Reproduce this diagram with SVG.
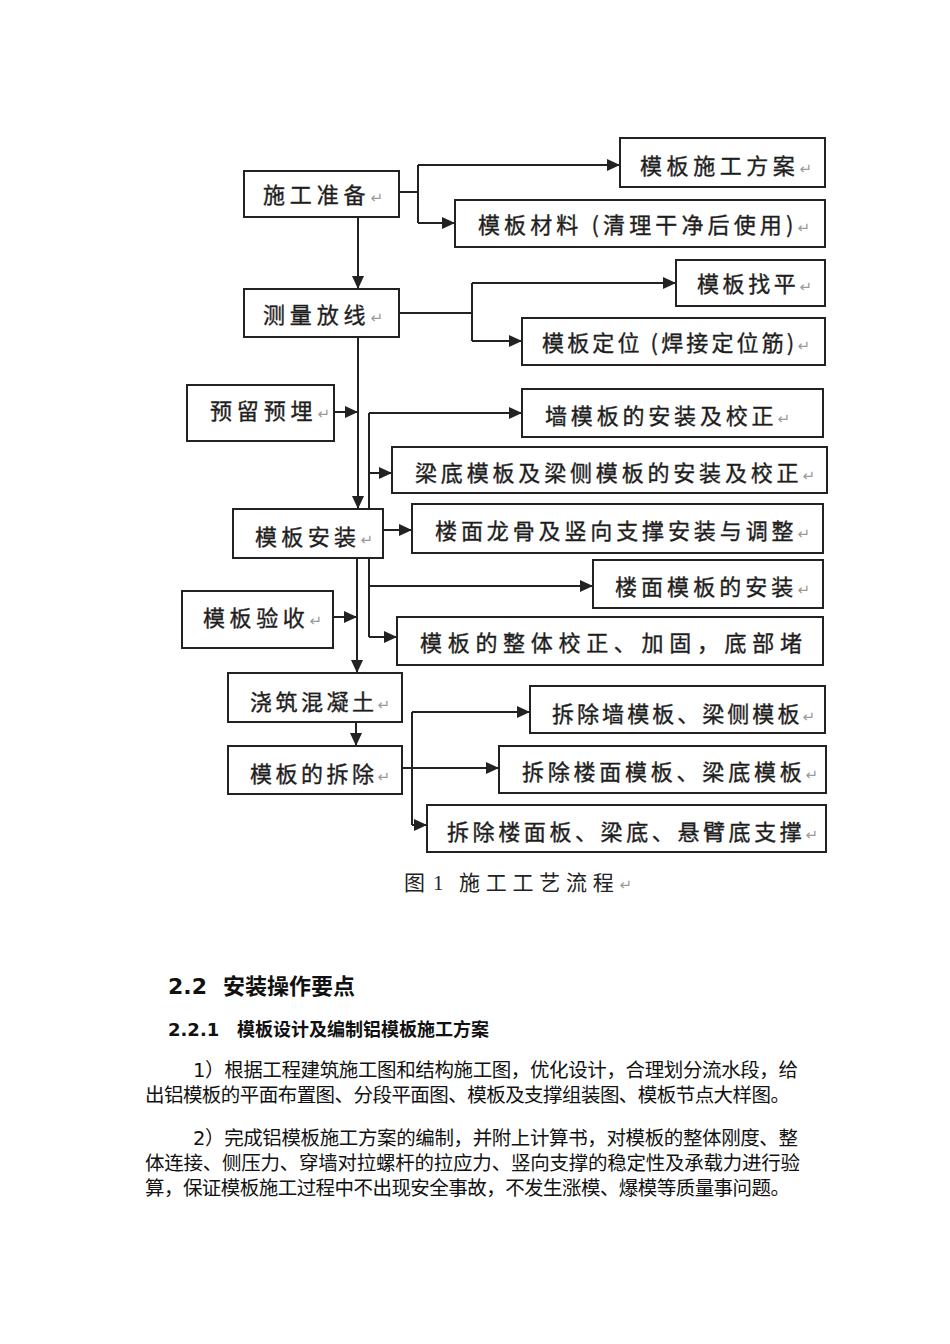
<svg xmlns="http://www.w3.org/2000/svg" width="950" height="1344" viewBox="0 0 950 1344">
<style>
.bg{fill:#ffffff}
.box{fill:#ffffff;stroke:#222222;stroke-width:2}
.ln{fill:none;stroke:#222222;stroke-width:2}
.t{font-family:"Noto Sans CJK SC","DejaVu Sans",sans-serif;font-size:22px;fill:#1e1e1e;stroke:#1e1e1e;stroke-width:0.35}
.ret{font-family:"DejaVu Sans","Noto Sans CJK SC",sans-serif;font-size:15px;fill:#9a9a9a;stroke:none}
.cap{font-family:"Noto Sans CJK SC","Liberation Serif",serif;font-size:21px;fill:#222222}
.h1{font-family:"DejaVu Sans","Noto Sans CJK SC",sans-serif;font-size:22px;font-weight:bold;fill:#111111}
.h2{font-family:"DejaVu Sans","Noto Sans CJK SC",sans-serif;font-size:18px;font-weight:bold;fill:#111111}
.p{font-family:"DejaVu Sans","Noto Sans CJK SC",sans-serif;font-size:19.5px;fill:#111111}
</style>
<defs>
<marker id="ar" markerWidth="14" markerHeight="12" refX="13" refY="6" orient="auto" markerUnits="userSpaceOnUse">
<path d="M0,0 L13,6 L0,12 z" fill="#222222"/>
</marker>
</defs>
<rect class="bg" x="0" y="0" width="950" height="1344"/>

<g id="connectors">
<path class="ln" d="M399,192 H418 M418,165 V223"/>
<path class="ln" d="M418,165 H620" marker-end="url(#ar)"/>
<path class="ln" d="M418,223 H455" marker-end="url(#ar)"/>
<path class="ln" d="M358,217 V289" marker-end="url(#ar)"/>
<path class="ln" d="M399,313 H472 M472,283 V341"/>
<path class="ln" d="M472,283 H676" marker-end="url(#ar)"/>
<path class="ln" d="M472,341 H522" marker-end="url(#ar)"/>
<path class="ln" d="M358,337 V509" marker-end="url(#ar)"/>
<path class="ln" d="M334,412 H358" marker-end="url(#ar)"/>
<path class="ln" d="M369,413 V637"/>
<path class="ln" d="M369,413 H522" marker-end="url(#ar)"/>
<path class="ln" d="M369,473 H392" marker-end="url(#ar)"/>
<path class="ln" d="M383,530 H412" marker-end="url(#ar)"/>
<path class="ln" d="M369,586 H593" marker-end="url(#ar)"/>
<path class="ln" d="M369,637 H397" marker-end="url(#ar)"/>
<path class="ln" d="M357,558 V673" marker-end="url(#ar)"/>
<path class="ln" d="M333,617 H357" marker-end="url(#ar)"/>
<path class="ln" d="M356,722 V746" marker-end="url(#ar)"/>
<path class="ln" d="M402,768 H499" marker-end="url(#ar)"/>
<path class="ln" d="M412,712 V825"/>
<path class="ln" d="M412,712 H530" marker-end="url(#ar)"/>
<path class="ln" d="M412,825 H427" marker-end="url(#ar)"/>
</g>

<g id="n1"><rect class="box" x="244" y="171" width="155" height="46"/><text class="t" x="263" y="203" textLength="120" lengthAdjust="spacing">施工准备<tspan class="ret">↵</tspan></text></g>
<g id="n2"><rect class="box" x="244" y="289" width="155" height="48"/><text class="t" x="263" y="323" textLength="120" lengthAdjust="spacing">测量放线<tspan class="ret">↵</tspan></text></g>
<g id="n3"><rect class="box" x="620" y="138" width="205" height="49"/><text class="t" x="640" y="174" textLength="172" lengthAdjust="spacing">模板施工方案<tspan class="ret">↵</tspan></text></g>
<g id="n4"><rect class="box" x="455" y="200" width="370" height="47"/><text class="t" x="478" y="233" textLength="332" lengthAdjust="spacing">模板材料 (清理干净后使用)<tspan class="ret">↵</tspan></text></g>
<g id="n5"><rect class="box" x="676" y="260" width="149" height="46"/><text class="t" x="697" y="292" textLength="115" lengthAdjust="spacing">模板找平<tspan class="ret">↵</tspan></text></g>
<g id="n6"><rect class="box" x="522" y="318" width="303" height="47"/><text class="t" x="542" y="351" textLength="268" lengthAdjust="spacing">模板定位 (焊接定位筋)<tspan class="ret">↵</tspan></text></g>
<g id="n7"><rect class="box" x="187" y="385" width="147" height="56"/><text class="t" x="210" y="419" textLength="120" lengthAdjust="spacing">预留预埋<tspan class="ret">↵</tspan></text></g>
<g id="n8"><rect class="box" x="522" y="389" width="301" height="48"/><text class="t" x="545" y="424" textLength="245" lengthAdjust="spacing">墙模板的安装及校正<tspan class="ret">↵</tspan></text></g>
<g id="n9"><rect class="box" x="392" y="447" width="435" height="46"/><text class="t" x="415" y="481" textLength="400" lengthAdjust="spacing">梁底模板及梁侧模板的安装及校正<tspan class="ret">↵</tspan></text></g>
<g id="n10"><rect class="box" x="233" y="509" width="150" height="49"/><text class="t" x="255" y="545" textLength="118" lengthAdjust="spacing">模板安装<tspan class="ret">↵</tspan></text></g>
<g id="n11"><rect class="box" x="412" y="504" width="411" height="49"/><text class="t" x="435" y="539" textLength="375" lengthAdjust="spacing">楼面龙骨及竖向支撑安装与调整<tspan class="ret">↵</tspan></text></g>
<g id="n12"><rect class="box" x="593" y="560" width="230" height="48"/><text class="t" x="615" y="595" textLength="195" lengthAdjust="spacing">楼面模板的安装<tspan class="ret">↵</tspan></text></g>
<g id="n13"><rect class="box" x="182" y="591" width="151" height="57"/><text class="t" x="203" y="626" textLength="119" lengthAdjust="spacing">模板验收<tspan class="ret">↵</tspan></text></g>
<g id="n14"><rect class="box" x="397" y="617" width="426" height="48"/><text class="t" x="420" y="651" textLength="382" lengthAdjust="spacing">模板的整体校正、加固，底部堵</text></g>
<g id="n15"><rect class="box" x="228" y="673" width="174" height="49"/><text class="t" x="250" y="710" textLength="140" lengthAdjust="spacing">浇筑混凝土<tspan class="ret">↵</tspan></text></g>
<g id="n16"><rect class="box" x="228" y="746" width="174" height="48"/><text class="t" x="250" y="782" textLength="140" lengthAdjust="spacing">模板的拆除<tspan class="ret">↵</tspan></text></g>
<g id="n17"><rect class="box" x="530" y="686" width="295" height="47"/><text class="t" x="552" y="722" textLength="263" lengthAdjust="spacing">拆除墙模板、梁侧模板<tspan class="ret">↵</tspan></text></g>
<g id="n18"><rect class="box" x="499" y="746" width="327" height="47"/><text class="t" x="522" y="780" textLength="296" lengthAdjust="spacing">拆除楼面模板、梁底模板<tspan class="ret">↵</tspan></text></g>
<g id="n19"><rect class="box" x="427" y="805" width="399" height="47"/><text class="t" x="447" y="840" textLength="371" lengthAdjust="spacing">拆除楼面板、梁底、悬臂底支撑<tspan class="ret">↵</tspan></text></g>

<g id="caption">
<text class="cap" x="404" y="890">图<tspan x="433" font-family="Liberation Serif, serif">1</tspan></text>
<text class="cap" x="459" y="890" textLength="173" lengthAdjust="spacing">施工工艺流程<tspan class="ret">↵</tspan></text>
</g>

<g id="body">
<text class="h1" x="168" y="994">2.2<tspan x="223">安装操作要点</tspan></text>
<text class="h2" x="168" y="1036">2.2.1<tspan x="237">模板设计及编制铝模板施工方案</tspan></text>
<text class="p" x="193" y="1077" textLength="605" lengthAdjust="spacing">1）根据工程建筑施工图和结构施工图，优化设计，合理划分流水段，给</text>
<text class="p" x="145" y="1102" textLength="645" lengthAdjust="spacing">出铝模板的平面布置图、分段平面图、模板及支撑组装图、模板节点大样图。</text>
<text class="p" x="193" y="1145" textLength="605" lengthAdjust="spacing">2）完成铝模板施工方案的编制，并附上计算书，对模板的整体刚度、整</text>
<text class="p" x="145" y="1170" textLength="655" lengthAdjust="spacing">体连接、侧压力、穿墙对拉螺杆的拉应力、竖向支撑的稳定性及承载力进行验</text>
<text class="p" x="145" y="1195" textLength="645" lengthAdjust="spacing">算，保证模板施工过程中不出现安全事故，不发生涨模、爆模等质量事问题。</text>
</g>
</svg>
